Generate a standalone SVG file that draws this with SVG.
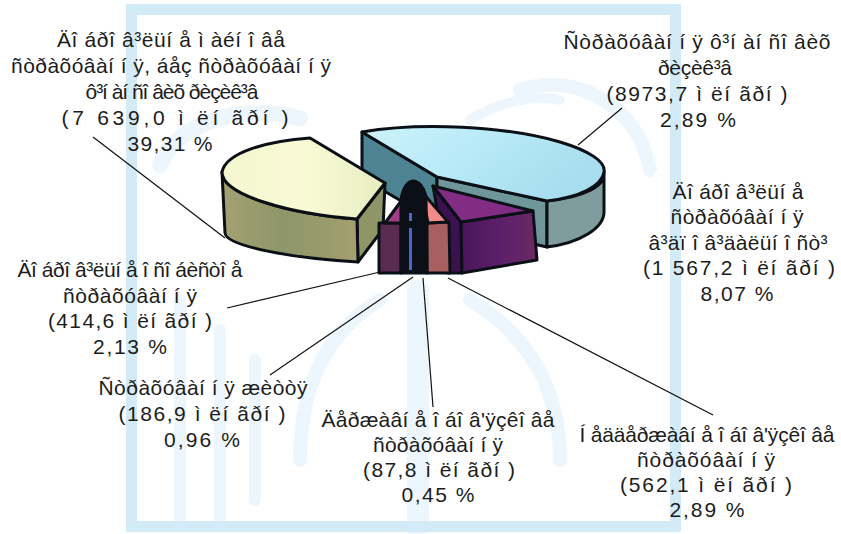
<svg xmlns="http://www.w3.org/2000/svg" width="841" height="534" viewBox="0 0 841 534">
<defs>
<style>
.t{font-family:"Liberation Sans",Arial,sans-serif;font-size:21px;fill:#1c1c1c;text-anchor:middle}
.ol{stroke:#0b1016;stroke-width:3;stroke-linejoin:round}
.ld{stroke:#111;stroke-width:1.2;fill:none}
.wm{fill:none;stroke:#edf6fc;stroke-linecap:round}
</style>
<linearGradient id="gCyan" x1="0" y1="0" x2="1" y2="0.4">
<stop offset="0" stop-color="#cdf2fb"/><stop offset="0.5" stop-color="#b8eaf7"/><stop offset="1" stop-color="#a8ddef"/>
</linearGradient>
<linearGradient id="gYel" x1="0" y1="0" x2="1" y2="0">
<stop offset="0" stop-color="#f3f6cf"/><stop offset="0.5" stop-color="#fafbd6"/><stop offset="1" stop-color="#e6edc0"/>
</linearGradient>
<linearGradient id="gOlive" x1="0" y1="0" x2="1" y2="0">
<stop offset="0" stop-color="#a3a173"/><stop offset="0.45" stop-color="#8e9669"/><stop offset="1" stop-color="#a39f70"/>
</linearGradient>
<linearGradient id="gPurp" x1="0" y1="0" x2="1" y2="0">
<stop offset="0" stop-color="#4a1658"/><stop offset="0.5" stop-color="#5b1f6a"/><stop offset="1" stop-color="#6a2a62"/>
</linearGradient>
</defs>
<rect width="841" height="534" fill="#ffffff"/>
<g id="background">
<path class="wm" stroke-width="16" d="M300,118 C240,105 180,120 160,165"/>
<path class="wm" stroke-width="12" d="M180,300 L180,520 M220,330 L220,520 M255,360 L255,500"/>
<path class="wm" stroke-width="22" d="M418,290 L418,528"/>
<path class="wm" stroke-width="14" d="M470,300 C520,330 560,380 560,460 M380,300 C330,330 300,380 300,460"/>
<path class="wm" stroke-width="14" d="M520,90 C580,70 640,110 650,170"/>
<path class="wm" stroke-width="10" d="M470,120 C500,100 540,95 560,100"/>
<rect x="131.5" y="9.5" width="544" height="517" fill="none" stroke="#d3eaf7" stroke-width="11"/>
</g>
<g id="connectors">
<path class="ld" d="M93,137 L225,238"/>
<path class="ld" d="M578,145 L622,108"/>
<path class="ld" d="M227,308 L380,272"/>
<path class="ld" d="M270,375 L413,277"/>
<path class="ld" d="M433,407 L423,278"/>
<path class="ld" d="M448,278 L713,415"/>
</g>
<g id="slice-financial-risks">
<path class="ol" fill="#4d8393" d="M362,132 L437,177 L437,222 L362,178 Z"/>
<path class="ol" fill="#6f979b" d="M437,177 L547,201 L547,247 L437,222 Z"/>
<path class="ol" fill="#7f9d9d" d="M604,172 C606,186 585,197 547,201 L547,247 C580,243 604,228 604,212 Z"/>
<path class="ol" fill="url(#gCyan)" d="M362,132 C420,122 505,126 560,142 C590,151 606,162 604,172 C602,186 580,197 547,201 L437,177 Z"/>
</g>
<g id="slice-voluntary-property">
<path class="ol" fill="#8f9566" d="M385,183 L357,219 L358,262 L383,229 Z"/>
<path class="ol" fill="url(#gOlive)" d="M222,172 C222,195 290,214 357,219 L358,262 C290,258 226,246 225,233 Z"/>
<path class="ol" fill="url(#gYel)" d="M385,183 L310,138 C268,141 226,152 222,172 C222,195 290,214 357,219 Z"/>
</g>
<g id="slice-liability">
<path class="ol" fill="#3c1150" d="M433,186 L461,222 L462,273 L448,273 Z"/>
<path class="ol" fill="url(#gPurp)" d="M461,222 L533,211 L537,260 L462,273 Z"/>
<path class="ol" fill="#822c86" d="M433,186 L533,211 L461,222 Z"/>
</g>
<g id="slice-personal">
<path class="ol" fill="#5b2c52" d="M379,223 L401,223 L401,273 L379,273 Z"/>
<path class="ol" fill="#a13d84" d="M385,223 L404,197 L407,223 Z"/>
</g>
<g id="slice-nonstate-compulsory">
<path class="ol" fill="#a85f5f" d="M427,223 L449,222 L450,273 L427,273 Z"/>
<path class="ol" fill="#f38b8b" d="M422,192 L448,222 L428,223 Z"/>
</g>
<g id="slice-life">
<path class="ol" fill="#0b0f18" d="M413,181 C419,181 424,188 426,196 L427,273 L401,273 L401,201 C402,190 407,181 413,181 Z"/>
</g>
<g id="slice-state-compulsory">
<path stroke="#4a66c8" stroke-width="3" d="M410.5,213 L410.5,221 M410.5,228 L410.5,270"/>
</g>
<g id="label-voluntary-property">
<text class="t" x="171" y="47" textLength="228" lengthAdjust="spacing">Äî áðî â³ëüí å ì àéí î âå</text>
<text class="t" x="171" y="73" textLength="320" lengthAdjust="spacing">ñòðàõóâàí í ÿ, áåç ñòðàõóâàí í ÿ</text>
<text class="t" x="172" y="99" textLength="173" lengthAdjust="spacing">ô³í àí ñî âèõ ðèçèê³â</text>
<text class="t" x="175" y="125" textLength="227" lengthAdjust="spacing">(7 639,0 ì ëí ãðí )</text>
<text class="t" x="170" y="151" textLength="85" lengthAdjust="spacing">39,31 %</text>
</g>
<g id="label-financial-risks">
<text class="t" x="697" y="49" textLength="267" lengthAdjust="spacing">Ñòðàõóâàí í ÿ ô³í àí ñî âèõ</text>
<text class="t" x="695" y="75" textLength="74" lengthAdjust="spacing">ðèçèê³â</text>
<text class="t" x="697" y="101" textLength="181" lengthAdjust="spacing">(8973,7 ì ëí ãðí )</text>
<text class="t" x="698" y="127" textLength="76" lengthAdjust="spacing">2,89 %</text>
</g>
<g id="label-liability">
<text class="t" x="738" y="199" textLength="131" lengthAdjust="spacing">Äî áðî â³ëüí å</text>
<text class="t" x="737" y="224" textLength="133" lengthAdjust="spacing">ñòðàõóâàí í ÿ</text>
<text class="t" x="738" y="250" textLength="179" lengthAdjust="spacing">â³äï î â³äàëüí î ñò³</text>
<text class="t" x="739" y="275" textLength="192" lengthAdjust="spacing">(1 567,2 ì ëí ãðí )</text>
<text class="t" x="737" y="301" textLength="73" lengthAdjust="spacing">8,07 %</text>
</g>
<g id="label-personal">
<text class="t" x="130" y="277" textLength="225" lengthAdjust="spacing">Äî áðî â³ëüí å î ñî áèñòî å</text>
<text class="t" x="130" y="303" textLength="134" lengthAdjust="spacing">ñòðàõóâàí í ÿ</text>
<text class="t" x="130" y="328" textLength="164" lengthAdjust="spacing">(414,6 ì ëí ãðí )</text>
<text class="t" x="130" y="354" textLength="74" lengthAdjust="spacing">2,13 %</text>
</g>
<g id="label-life">
<text class="t" x="203" y="395" textLength="209" lengthAdjust="spacing">Ñòðàõóâàí í ÿ æèòòÿ</text>
<text class="t" x="202" y="421" textLength="167" lengthAdjust="spacing">(186,9 ì ëí ãðí )</text>
<text class="t" x="202" y="447" textLength="76" lengthAdjust="spacing">0,96 %</text>
</g>
<g id="label-state-compulsory">
<text class="t" x="438" y="427" textLength="233" lengthAdjust="spacing">Äåðæàâí å î áî â'ÿçêî âå</text>
<text class="t" x="438" y="452" textLength="130" lengthAdjust="spacing">ñòðàõóâàí í ÿ</text>
<text class="t" x="439" y="477" textLength="152" lengthAdjust="spacing">(87,8 ì ëí ãðí )</text>
<text class="t" x="438" y="502" textLength="73" lengthAdjust="spacing">0,45 %</text>
</g>
<g id="label-nonstate-compulsory">
<text class="t" x="707" y="442" textLength="255" lengthAdjust="spacing">Í åääåðæàâí å î áî â'ÿçêî âå</text>
<text class="t" x="706" y="467" textLength="138" lengthAdjust="spacing">ñòðàõóâàí í ÿ</text>
<text class="t" x="706" y="492" textLength="172" lengthAdjust="spacing">(562,1 ì ëí ãðí )</text>
<text class="t" x="707" y="517" textLength="75" lengthAdjust="spacing">2,89 %</text>
</g>
</svg>
